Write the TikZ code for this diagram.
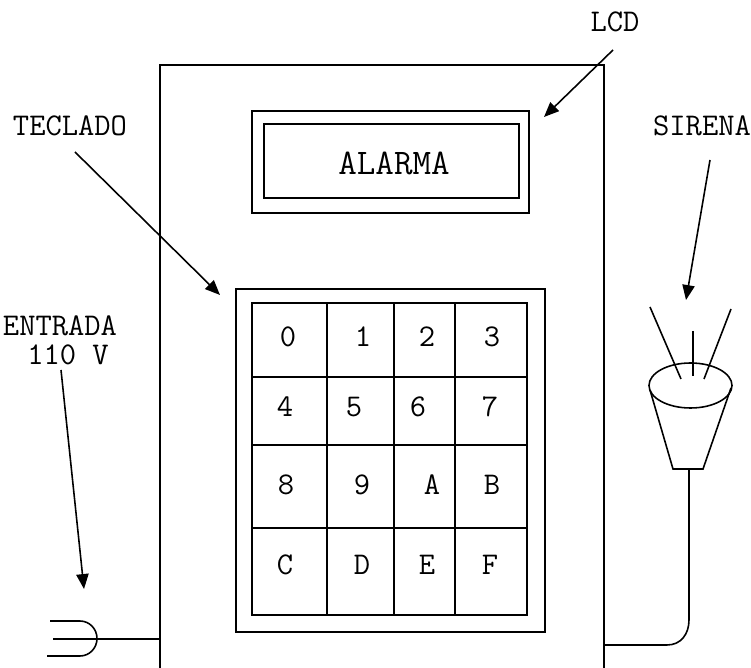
\documentclass[tikz,border=0pt]{standalone}
\usepackage{fontspec}
\usetikzlibrary{arrows.meta}
\tikzset{>={Triangle[length=8.5pt,width=7pt]},
  lbl/.style={font=\ttfamily\fontsize{18}{21}\selectfont, inner sep=0pt}}

\begin{document}
\begin{tikzpicture}[x=0.02cm, y=-0.02cm, line width=0.9pt]
    \useasboundingbox (0,0) rectangle (751,668);
    % case of the alarm
    \draw (160,668) -- (160,65) -- (604,65) -- (604,668);
    % display
    \draw (252,111) rectangle (529,213);
    \draw (264,124) rectangle (519,198);
    \node [lbl, font=\ttfamily\fontsize{20.5}{24}\selectfont] (alarma) at (394,163) {ALARMA};
    % keypad
    \draw (236,289) rectangle (545,632);
    \draw (252,303) rectangle (527,615);
    \foreach \x in {327,394,455}
    \draw (\x,303) -- (\x,615);
    \foreach \y in {377,445,528}
    \draw (252,\y) -- (527,\y);
    \foreach \k/\x/\y in {0/288/337, 1/363/337, 2/427/337, 3/492/337,
        4/285/407, 5/354/407, 6/418/407, 7/490/407,
        8/286/485, 9/362/485, A/432/485, B/492/485,
        C/285/565, D/362/565, E/427/565, F/490/565}
    \node [lbl] (key\k) at (\x,\y) {\k};
    % mains plug
    \coordinate (plugin) at (160,639);
    \draw (50,621) -- (80,621) arc (-90:90:17 and 17.5) -- (47,656);
    \draw (53,639) -- (plugin);
    % siren
    \draw (690.5,385.5) ellipse [x radius=41.5, y radius=22.5];
    \draw (650,390) -- (673,469) -- (703,469) -- (731,388);
    \draw (650,307) -- (681,379);
    \draw (693,331) -- (693,376);
    \draw (731,309) -- (704,379);
    \coordinate (sirenout) at (689,469);
    \coordinate (sirenin) at (604,645);
    \draw (sirenin) -- (667,645) .. controls (681,645) and (689,634) .. (689,620) -- (sirenout);
    % labels and their arrows
    \node [lbl] (lcd) at (615,22) {LCD};
    \node [lbl] (teclado) at (70,126) {TECLADO};
    \node [lbl] (sirena) at (702,126) {SIRENA};
    \node [lbl] (entrada) at (60,326) {ENTRADA};
    \node [lbl] (volt) at (68,355) {110 V};
    \coordinate (lcdfrom) at (613,50);
    \coordinate (lcdto) at (544,117);
    \coordinate (tecfrom) at (75,152);
    \coordinate (tecto) at (220,295);
    \coordinate (sirfrom) at (710,160);
    \coordinate (sirto) at (686,300);
    \coordinate (entfrom) at (61,370);
    \coordinate (entto) at (84,589);
    \draw [->] (lcdfrom) -- (lcdto);
    \draw [->] (tecfrom) -- (tecto);
    \draw [->] (sirfrom) -- (sirto);
    \draw [->] (entfrom) -- (entto);
\end{tikzpicture}
\end{document}
